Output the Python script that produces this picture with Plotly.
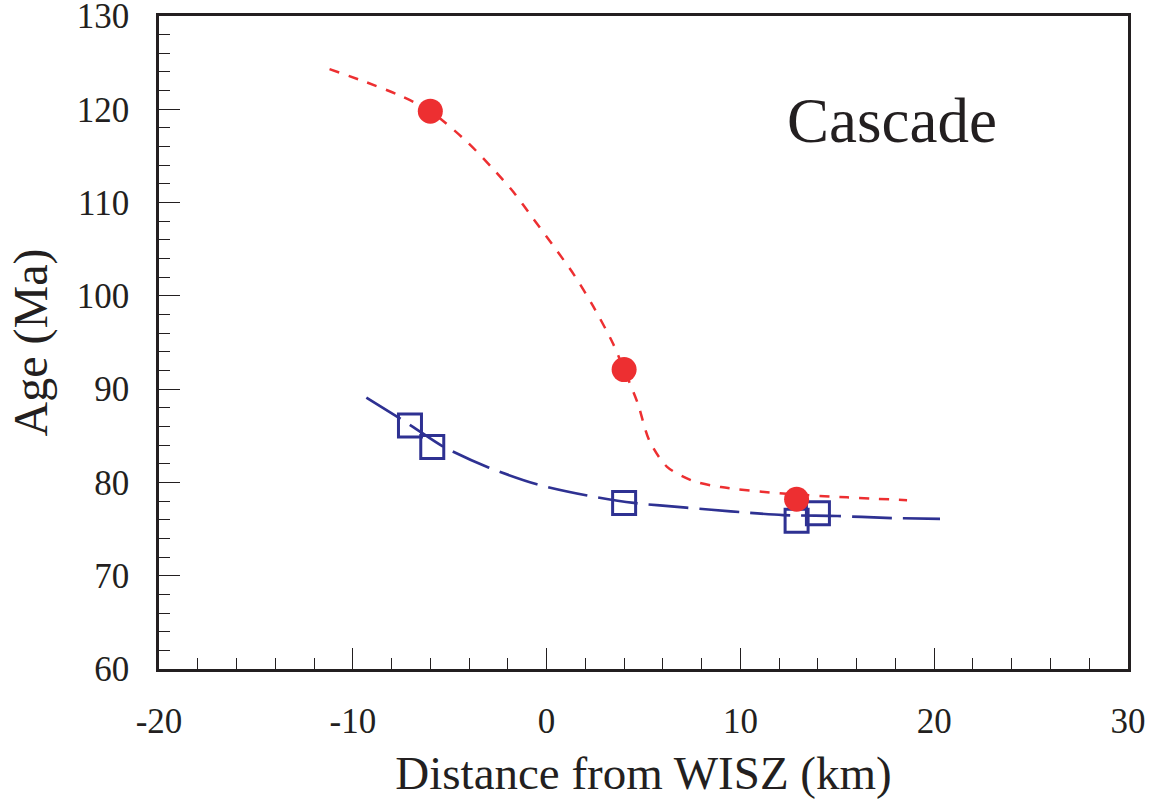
import plotly.graph_objects as go

# Data points
red_x = [-6.0, 4.0, 12.9]
red_y = [119.8, 92.1, 78.2]
blue_x = [-7.05, -5.9, 4.0, 12.9, 14.0]
blue_y = [86.1, 83.8, 77.8, 75.9, 76.7]

# Fitted curves
red_curve_x = [-11.2, -9.3, -7.6, -6.0, -4.1, -2.8, -1.7, -0.7, 0.3, 1.4, 2.4, 3.4, 4.0, 4.7, 5.3, 6.2, 7.5, 9.0, 12.2, 15.5, 18.6]
red_curve_y = [124.3, 122.9, 121.5, 119.8, 116.5, 113.7, 111.1, 108.3, 105.5, 102.3, 98.9, 95.0, 92.1, 88.5, 84.5, 81.7, 80.2, 79.5, 78.8, 78.4, 78.1]
blue_curve_x = [-9.3, -7.0, -5.3, -3.0, -0.5, 2.1, 4.5, 7.2, 9.5, 12.2, 15.0, 17.5, 20.3]
blue_curve_y = [89.1, 86.1, 83.8, 81.6, 79.8, 78.6, 77.8, 77.3, 76.9, 76.5, 76.4, 76.2, 76.1]

x_ticks = [-20, -10, 0, 10, 20, 30]
y_ticks = [60, 70, 80, 90, 100, 110, 120, 130]

RED = "#ED2F31"
BLUE = "#2E3192"
INK = "#231F20"
FONT = "Liberation Serif"

fig = go.Figure()
fig.add_trace(go.Scatter(x=blue_curve_x, y=blue_curve_y, mode="lines", line_shape="spline",
                         line=dict(color=BLUE, width=2.7, dash="40px,11px", smoothing=0.8),
                         showlegend=False, hoverinfo="skip"))
fig.add_trace(go.Scatter(x=blue_x, y=blue_y, mode="markers",
                         marker=dict(symbol="square-open", size=23, color=BLUE, line=dict(width=3, color=BLUE)),
                         showlegend=False))
fig.add_trace(go.Scatter(x=red_curve_x, y=red_curve_y, mode="lines", line_shape="spline",
                         line=dict(color=RED, width=2.5, dash="10px,10px", smoothing=0.8),
                         showlegend=False, hoverinfo="skip"))
fig.add_trace(go.Scatter(x=red_x, y=red_y, mode="markers",
                         marker=dict(symbol="circle", size=25, color=RED), showlegend=False))

fig.add_annotation(x=17.8, y=118.7, xref="x", yref="y", text="Cascade", showarrow=False,
                   font=dict(family=FONT, size=63, color=INK))

fig.update_layout(
    width=1153, height=807, autosize=False,
    margin=dict(l=159, r=25, t=16, b=138, autoexpand=False),
    paper_bgcolor="white", plot_bgcolor="white",
    font=dict(family=FONT, color=INK),
)
fig.update_xaxes(
    range=[-20, 30], tickvals=x_ticks, ticktext=[str(v) for v in x_ticks], automargin=False,
    showgrid=False, zeroline=False, showline=True, linecolor=INK, linewidth=2.5, mirror=True,
    ticks="inside", ticklen=21, tickwidth=1.2, tickcolor=INK,
    minor=dict(ticks="inside", ticklen=11, tickwidth=1.2, tickcolor=INK, dtick=2, tick0=0, showgrid=False),
    tickfont=dict(family=FONT, size=35, color=INK), ticklabelstandoff=19, ticklabeloverflow="allow",
    title=dict(text="Distance from WISZ (km)", font=dict(family=FONT, size=47, color=INK), standoff=17),
)
fig.update_yaxes(
    range=[60, 130], tickvals=y_ticks, ticktext=[str(v) for v in y_ticks], automargin=False,
    showgrid=False, zeroline=False, showline=True, linecolor=INK, linewidth=2.5, mirror=True,
    ticks="inside", ticklen=21, tickwidth=1.2, tickcolor=INK,
    minor=dict(ticks="inside", ticklen=11, tickwidth=1.2, tickcolor=INK, dtick=2, tick0=0, showgrid=False),
    tickfont=dict(family=FONT, size=35, color=INK), ticklabelstandoff=20, ticklabeloverflow="allow",
    title=dict(text="Age (Ma)", font=dict(family=FONT, size=48, color=INK), standoff=14),
)

fig.write_html("out.html", config={"displayModeBar": False},
               post_script="document.body.style.margin='0';")
